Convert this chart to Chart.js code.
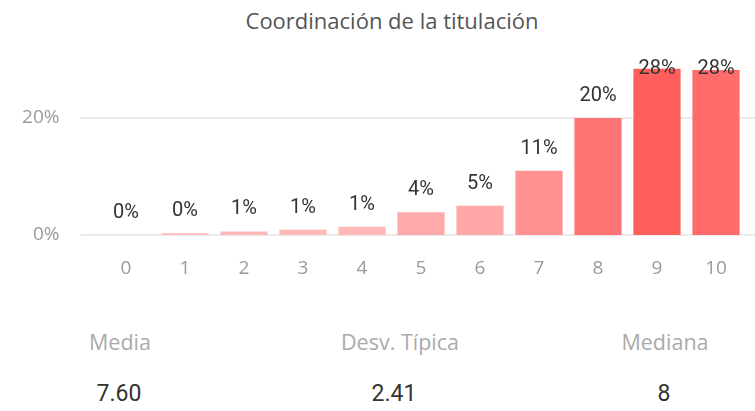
<!DOCTYPE html>
<html>
<head>
<meta charset="utf-8">
<script src="https://cdn.jsdelivr.net/npm/chart.js@4.4.0/dist/chart.umd.min.js"></script>
<style>
  body { margin: 0; background: #fff; width: 755px; height: 411px; overflow: hidden; position: relative; font-family: "Open Sans", sans-serif; }
  #wrap { position: absolute; left: 0; top: 0; width: 755px; height: 300px; }
  .t { position: absolute; transform: translate(-50%, -50%); white-space: nowrap; }
  #title { left: 392px; top: 20px; font-size: 22px; color: #555; }
  .lab { top: 341px; font-size: 21.5px; color: #aaa; }
  .val { top: 393px; font-size: 23px; color: #333; font-family: Roboto, sans-serif; }
</style>
</head>
<body>
<div id="title" class="t">Coordinación de la titulación</div>
<div id="wrap"><canvas id="chart"></canvas></div>
<div id="stats"></div>

<script>
// Data
const categories = ['0', '1', '2', '3', '4', '5', '6', '7', '8', '9', '10'];
const percentages = [0, 0.3, 0.6, 0.9, 1.4, 3.9, 5.0, 11.0, 20.0, 28.4, 28.2];
const yTicks = [0, 20];
const statLabels = ['Media', 'Desv. Típica', 'Mediana'];
const statValues = ['7.60', '2.41', '8'];

// Styling
const barColors = ['#FFB9B9', '#FFB9B9', '#FFB9B9', '#FFB9B9', '#FFB9B9', '#FFAAAA', '#FFA8A7', '#FF9190', '#FF7474', '#FF5F5C', '#FF6B6A'];
const statCenters = [[120, 119], [400, 394], [665, 664]];

// Stats below the chart
const stats = document.getElementById('stats');
statLabels.forEach((label, i) => {
  const l = document.createElement('div');
  l.className = 't lab';
  l.style.left = statCenters[i][0] + 'px';
  l.textContent = label;
  stats.appendChild(l);

  const v = document.createElement('div');
  v.className = 't val';
  v.style.left = statCenters[i][1] + 'px';
  v.textContent = statValues[i];
  stats.appendChild(v);
});

// Light grid lines that run a bit past the plot area
const softGrid = {
  id: 'softGrid',
  beforeDatasetsDraw(chart) {
    const { ctx, chartArea } = chart;
    const y = chart.scales.y;
    ctx.save();
    ctx.strokeStyle = '#ebebeb';
    ctx.lineWidth = 2;
    yTicks.forEach(v => {
      const py = Math.round(y.getPixelForValue(v));
      ctx.beginPath();
      ctx.moveTo(chartArea.left - 16, py);
      ctx.lineTo(chart.width, py);
      ctx.stroke();
    });
    ctx.restore();
  }
};

// Percentage labels above bars
const barLabels = {
  id: 'barLabels',
  afterDatasetsDraw(chart) {
    const { ctx, chartArea } = chart;
    const meta = chart.getDatasetMeta(0);
    ctx.save();
    ctx.font = '20px Roboto, sans-serif';
    ctx.fillStyle = '#333';
    ctx.textAlign = 'center';
    ctx.textBaseline = 'middle';
    meta.data.forEach((bar, i) => {
      const y = Math.max(bar.y - 22, chartArea.top + 9);
      ctx.fillText(Math.round(percentages[i]) + '%', bar.x, y);
    });
    ctx.restore();
  }
};

const ctx = document.getElementById('chart').getContext('2d');
new Chart(ctx, {
  type: 'bar',
  data: {
    labels: categories,
    datasets: [{
      data: percentages,
      backgroundColor: barColors,
      barPercentage: 0.8,
      categoryPercentage: 1.0
    }]
  },
  options: {
    responsive: true,
    maintainAspectRatio: false,
    animation: false,
    layout: { padding: { left: 0, right: 9.5, top: 59.5, bottom: 0 } },
    plugins: {
      legend: { display: false },
      tooltip: { enabled: false }
    },
    scales: {
      x: {
        grid: { display: false, drawTicks: false },
        border: { display: false },
        ticks: { color: '#9a9a9a', font: { family: 'Open Sans', size: 19 }, padding: 22 },
        afterFit(axis) { axis.height = 65; }
      },
      y: {
        min: 0,
        max: 30,
        grid: { display: false, drawTicks: false },
        border: { display: false },
        afterBuildTicks(axis) { axis.ticks = yTicks.map(v => ({ value: v })); },
        ticks: {
          color: '#9a9a9a',
          font: { family: 'Open Sans', size: 19 },
          padding: 37,
          callback: v => v + '%'
        },
        afterFit(axis) { axis.width = 96.5; }
      }
    }
  },
  plugins: [softGrid, barLabels]
});
</script>
</body>
</html>
